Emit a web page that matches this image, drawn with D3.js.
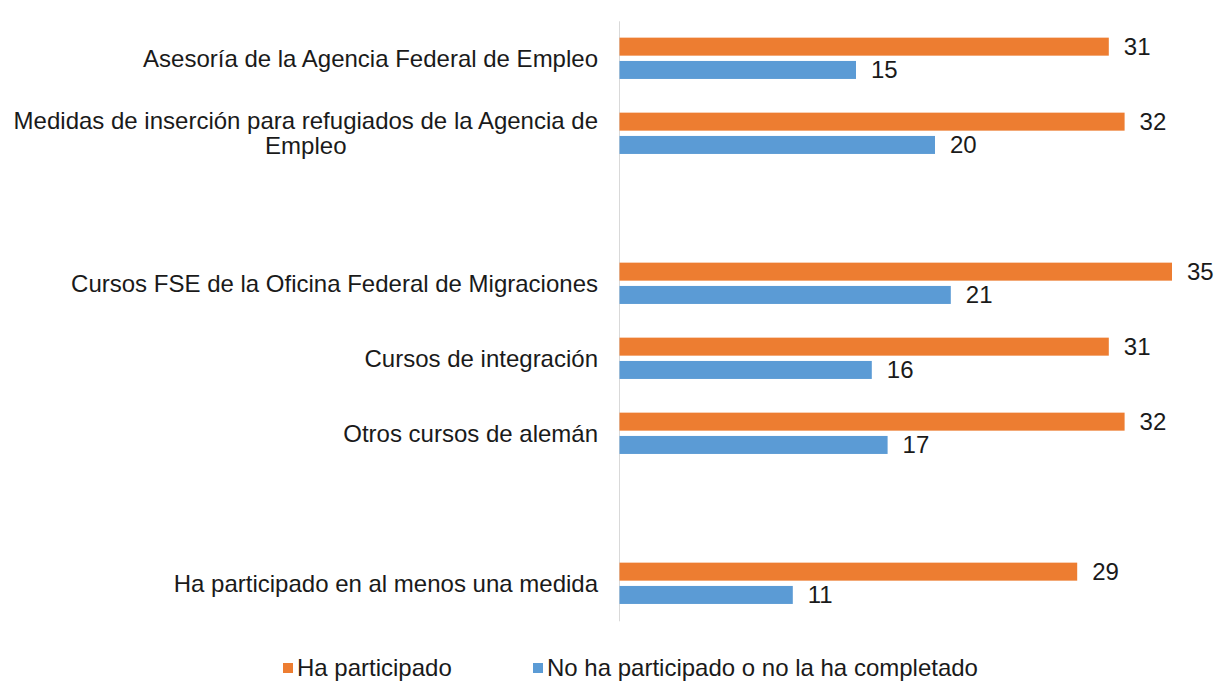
<!DOCTYPE html>
<html>
<head>
<meta charset="utf-8">
<script src="https://cdn.jsdelivr.net/npm/d3@7"></script>
<style>
	body { margin: 0; background: #fff; }
	text { font-family: "Liberation Sans", Arial, sans-serif; fill: #1a1a1a; }
</style>
</head>
<body>
<script>
// empty strings are the blank rows between groups
const categories = [
	'Asesoría de la Agencia Federal de Empleo',
	'Medidas de inserción para refugiados de la Agencia de Empleo',
	'',
	'Cursos FSE de la Oficina Federal de Migraciones',
	'Cursos de integración',
	'Otros cursos de alemán',
	'',
	'Ha participado en al menos una medida'
];
const participado = [31, 32, null, 35, 31, 32, null, 29];
const noParticipado = [15, 20, null, 21, 16, 17, null, 11];
const seriesNames = ['Ha participado', 'No ha participado o no la ha completado'];
const colors = ['#ED7D31', '#5B9BD5'];

const width = 1218;
const height = 682;
const fontSize = 24;

const svg = d3.select('body').append('svg')
	.attr('width', width)
	.attr('height', height);

const xScale = d3.scaleLinear().domain([0, 35]).range([619, 1172]);

const yScale = d3.scaleBand()
	.domain(d3.range(categories.length))
	.range([20.8, 620.8]);

const inner = d3.scaleBand()
	.domain([0, 1])
	.range([0, yScale.bandwidth()])
	.paddingInner(0.227)
	.paddingOuter(0.723);

const rows = categories.map(function(c, i) {
	return { i: i, name: c, values: [participado[i], noParticipado[i]] };
});

// axis line
const yAxis = d3.axisLeft(yScale).tickSize(0).tickFormat('');
const axisG = svg.append('g')
	.attr('transform', 'translate(' + xScale(0) + ',0)')
	.call(yAxis);
axisG.select('.domain').attr('stroke', '#d9d9d9').attr('stroke-width', 1);

// category labels (wrapped, centred lines, block right-aligned)
const labelRight = xScale(0) - 21;
const maxLabel = 595;
const labels = svg.append('g').selectAll('text')
	.data(rows.filter(function(d) { return d.name !== ''; }))
	.enter().append('text')
	.style('font-size', fontSize + 'px');

labels.each(function(d) {
	const t = d3.select(this);
	const words = d.name.split(' ');
	let lines = [];
	let line = [];
	const probe = t.append('tspan');
	words.forEach(function(w) {
		line.push(w);
		probe.text(line.join(' '));
		if (probe.node().getComputedTextLength() > maxLabel && line.length > 1) {
			line.pop();
			lines.push(line.join(' '));
			line = [w];
		}
	});
	lines.push(line.join(' '));
	probe.remove();
	const cy = yScale(d.i) + yScale.bandwidth() / 2;
	const lh = 25;
	if (lines.length === 1) {
		t.attr('x', labelRight).attr('y', cy).attr('dy', '0.35em')
			.attr('text-anchor', 'end').text(lines[0]);
	} else {
		const tmp = lines.map(function(l) {
			const s = t.append('tspan').text(l);
			const w = s.node().getComputedTextLength();
			s.remove();
			return w;
		});
		const mid = labelRight - d3.max(tmp) / 2;
		t.attr('text-anchor', 'middle');
		lines.forEach(function(l, k) {
			t.append('tspan')
				.attr('x', mid)
				.attr('y', cy + (k - (lines.length - 1) / 2) * lh)
				.attr('dy', '0.35em')
				.text(l);
		});
	}
});

// bars
const groups = svg.append('g').selectAll('g')
	.data(rows.filter(function(d) { return d.values[0] !== null; }))
	.enter().append('g')
	.attr('transform', function(d) { return 'translate(0,' + yScale(d.i) + ')'; });

groups.selectAll('rect')
	.data(function(d) { return d.values.map(function(v, k) { return { k: k, v: v }; }); })
	.enter().append('rect')
	.attr('x', xScale(0) + 0.5)
	.attr('y', function(d) { return inner(d.k); })
	.attr('width', function(d) { return xScale(d.v) - xScale(0) - 0.5; })
	.attr('height', inner.bandwidth())
	.attr('fill', function(d) { return colors[d.k]; });

groups.selectAll('text')
	.data(function(d) { return d.values.map(function(v, k) { return { k: k, v: v }; }); })
	.enter().append('text')
	.attr('x', function(d) { return xScale(d.v) + 15; })
	.attr('y', function(d) { return inner(d.k) + inner.bandwidth() / 2; })
	.attr('dy', '0.35em')
	.style('font-size', fontSize + 'px')
	.text(function(d) { return d.v; });

// legend
const legendX = [283, 533];
const legendY = 668;
const legend = svg.append('g').selectAll('g')
	.data(seriesNames)
	.enter().append('g')
	.attr('transform', function(d, k) { return 'translate(' + legendX[k] + ',' + legendY + ')'; });
legend.append('rect')
	.attr('x', 0).attr('y', -5)
	.attr('width', 10).attr('height', 10)
	.attr('fill', function(d, k) { return colors[k]; });
legend.append('text')
	.attr('x', 14)
	.attr('dy', '0.35em')
	.style('font-size', fontSize + 'px')
	.text(function(d) { return d; });
</script>
</body>
</html>
